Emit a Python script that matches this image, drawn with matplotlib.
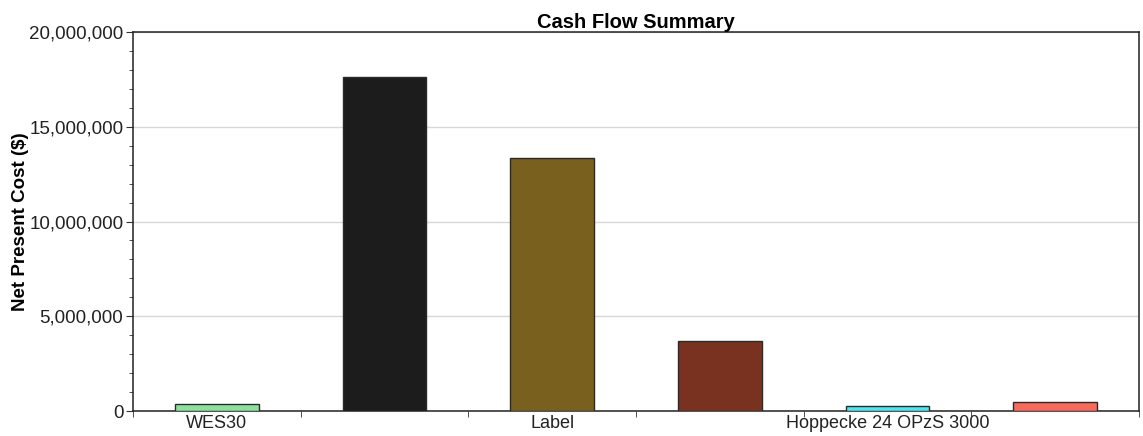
import matplotlib
matplotlib.use("Agg")
import matplotlib.pyplot as plt
from matplotlib.ticker import FuncFormatter, MultipleLocator, FixedLocator
import numpy as np

categories = ["WES30", "", "Label", "", "Hoppecke 24 OPzS 3000", ""]
values = [380000, 17620000, 13330000, 3670000, 290000, 490000]
colors = ["#8CE29C", "#1C1C1C", "#7A601E", "#7A3220", "#4FE6F0", "#F86A5C"]

plt.rcParams['font.family'] = ['Liberation Sans', 'DejaVu Sans']

fig = plt.figure(figsize=(11.43, 4.36), dpi=100)
ax = fig.add_axes([0.1164, 0.0573, 0.8801, 0.8693])

x = np.arange(len(categories))
ax.bar(x, values, width=0.5, color=colors, edgecolor="#2a2a2a", linewidth=1.0, zorder=3)

ax.set_xlim(-0.5, len(categories) - 0.5)
ax.set_ylim(0, 20000000)

ax.yaxis.set_major_locator(MultipleLocator(5000000))
ax.yaxis.set_minor_locator(MultipleLocator(1000000))
ax.yaxis.set_major_formatter(FuncFormatter(lambda v, p: f"{int(v):,}"))
ax.grid(axis="y", which="major", color="#d8d8d8", linewidth=1.0, zorder=0)

ax.set_xticks(x)
ax.set_xticklabels(categories)
ax.tick_params(axis="x", which="major", length=0, pad=3, labelsize=13, labelcolor="#222222")
ax.xaxis.set_minor_locator(FixedLocator(np.arange(-0.5, len(categories), 1.0)))
ax.tick_params(axis="x", which="minor", length=4, direction="out", color="#333333")

ax.tick_params(axis="y", which="major", length=5, direction="out", labelsize=13.5, labelcolor="#222222", color="#333333", pad=2)
ax.tick_params(axis="y", which="minor", length=3, direction="out", color="#333333")

for s in ax.spines.values():
    s.set_color("#222222")
    s.set_linewidth(1.1)

ax.set_ylabel("Net Present Cost ($)", fontsize=13.5, fontweight="bold", labelpad=0)
ax.set_title("Cash Flow Summary", fontsize=14.5, fontweight="bold", pad=2)

fig.savefig("out.png", dpi=100)
